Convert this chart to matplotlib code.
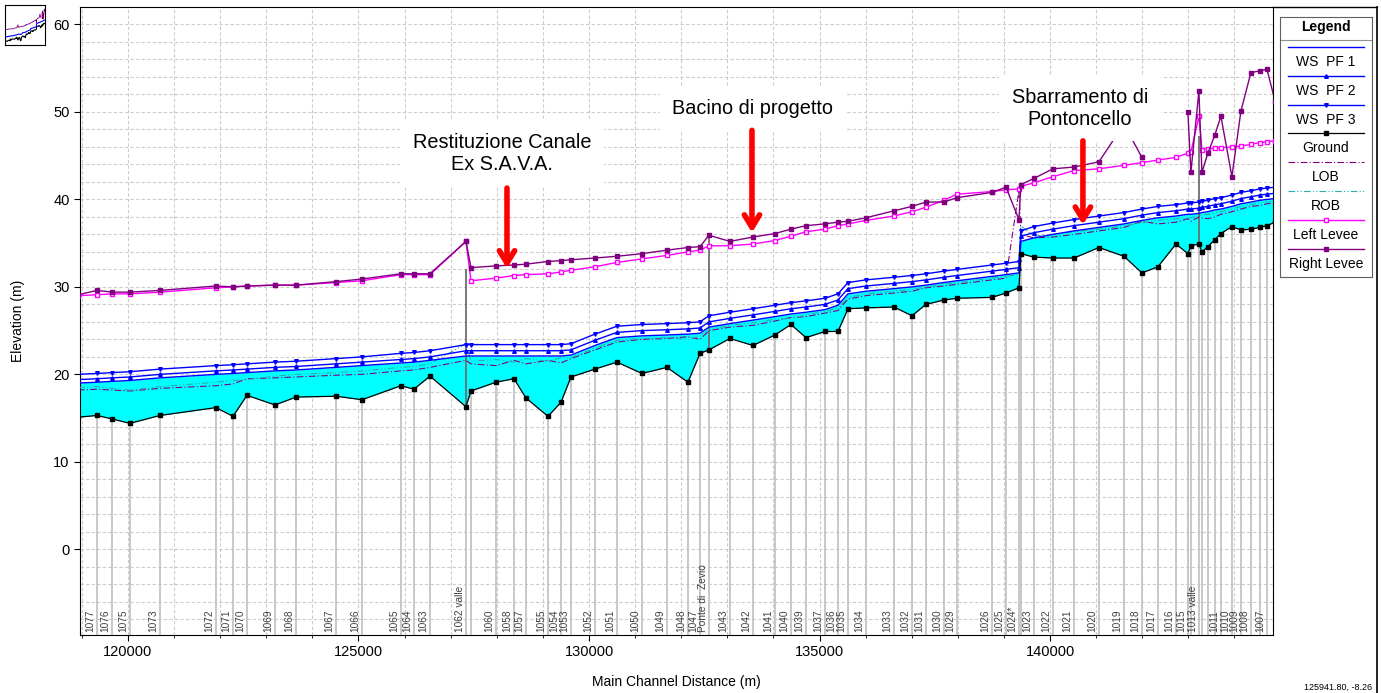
import numpy as np
import matplotlib.pyplot as plt
from matplotlib.lines import Line2D

plt.rcParams['font.family'] = ['Liberation Sans', 'DejaVu Sans']

# --- profile data ---
station_dist = [118916, 119328, 119653, 120043, 120694, 121909, 122277, 122581, 123188, 123644,
                124512, 125075, 125921, 126203, 126550, 127331, 127440, 127982, 128372, 128633,
                129110, 129392, 129609, 130129, 130606, 131149, 131691, 132146, 132407, 132602,
                133057, 133556, 134033, 134380, 134706, 135118, 135400, 135617, 136007, 136615,
                137005, 137309, 137699, 137981, 138740, 139044, 139326, 139369, 139651, 140063,
                140519, 141061, 141603, 141994, 142341, 142731, 142991, 143056, 143230, 143295,
                143425, 143577, 143707, 143946, 144141, 144358, 144553, 144705, 144879]

station_name = ['', '1077', '1076', '1075', '1073', '1072', '1071', '1070', '1069', '1068',
                '1067', '1066', '1065', '1064', '1063', '1062 valle', '', '1060', '1058', '1057',
                '1055', '1054', '1053', '1052', '1051', '1050', '1049', '1048', '1047', 'Ponte di  Zevio',
                '1043', '1042', '1041', '1040', '1039', '1037', '1036', '1035', '1034', '1033',
                '1032', '1031', '1030', '1029', '1026', '1025', '1024*', '', '1023', '1022',
                '1021', '1020', '1019', '1018', '1017', '1016', '1015', '', '1013 valle', '',
                '', '', '1011', '1010', '1009', '1008', '', '1007', '']

ground = [15.1, 15.3, 14.9, 14.4, 15.3, 16.2, 15.2, 17.6, 16.5, 17.4,
          17.5, 17.1, 18.7, 18.3, 19.8, 16.3, 18.1, 19.1, 19.5, 17.3,
          15.2, 16.8, 19.7, 20.6, 21.4, 20.1, 20.8, 19.1, 22.4, 22.8,
          24.1, 23.3, 24.5, 25.7, 24.2, 24.9, 24.9, 27.5, 27.6, 27.7,
          26.7, 28.0, 28.5, 28.7, 28.8, 29.3, 29.9, 33.8, 33.4, 33.3,
          33.3, 34.5, 33.5, 31.6, 32.3, 34.9, 33.8, 34.7, 34.9, 34.0,
          34.6, 35.4, 36.1, 36.9, 36.5, 36.6, 36.8, 37.0, 37.4]

ws_pf1 = [19.0, 19.1, 19.2, 19.3, 19.6, 20.0, 20.1, 20.2, 20.4, 20.5,
          20.8, 21.0, 21.3, 21.4, 21.6, 22.1, 22.1, 22.1, 22.1, 22.1,
          22.1, 22.1, 22.2, 23.3, 24.2, 24.4, 24.5, 24.6, 24.7, 25.4,
          25.8, 26.2, 26.6, 26.9, 27.1, 27.4, 27.9, 29.2, 29.5, 29.8,
          30.0, 30.2, 30.5, 30.7, 31.2, 31.4, 31.6, 35.2, 35.6, 36.0,
          36.4, 36.8, 37.2, 37.6, 37.9, 38.1, 38.3, 38.3, 38.4, 38.5,
          38.6, 38.8, 38.9, 39.2, 39.5, 39.7, 39.9, 40.0, 40.1]

ws_pf2 = [19.4, 19.5, 19.6, 19.7, 20.0, 20.4, 20.5, 20.6, 20.8, 20.9,
          21.2, 21.4, 21.7, 21.8, 22.0, 22.7, 22.7, 22.7, 22.7, 22.7,
          22.7, 22.7, 22.8, 23.9, 24.8, 25.0, 25.1, 25.2, 25.3, 26.0,
          26.4, 26.8, 27.2, 27.5, 27.7, 28.0, 28.5, 29.8, 30.1, 30.4,
          30.6, 30.8, 31.1, 31.3, 31.8, 32.0, 32.2, 35.8, 36.2, 36.6,
          37.0, 37.4, 37.8, 38.2, 38.5, 38.7, 38.9, 38.9, 39.0, 39.1,
          39.2, 39.4, 39.5, 39.8, 40.1, 40.3, 40.5, 40.6, 40.7]

ws_pf3 = [20.0, 20.1, 20.2, 20.3, 20.6, 21.0, 21.1, 21.2, 21.4, 21.5,
          21.8, 22.0, 22.4, 22.5, 22.7, 23.4, 23.4, 23.4, 23.4, 23.4,
          23.4, 23.4, 23.5, 24.6, 25.5, 25.7, 25.8, 25.9, 26.0, 26.7,
          27.1, 27.5, 27.9, 28.2, 28.4, 28.7, 29.2, 30.5, 30.8, 31.1,
          31.3, 31.5, 31.8, 32.0, 32.5, 32.7, 32.9, 36.4, 36.9, 37.3,
          37.7, 38.1, 38.5, 38.9, 39.2, 39.4, 39.6, 39.6, 39.7, 39.8,
          39.9, 40.1, 40.2, 40.5, 40.8, 41.0, 41.2, 41.3, 41.4]

lob = [18.2, 18.3, 18.2, 18.1, 18.4, 18.7, 18.9, 19.5, 19.6, 19.7,
       19.9, 20.0, 20.4, 20.5, 20.8, 21.6, 21.2, 21.0, 21.6, 21.2,
       21.6, 21.3, 21.8, 22.8, 23.7, 24.0, 24.1, 24.3, 24.0, 25.0,
       25.4, 25.6, 26.1, 26.5, 26.6, 27.0, 27.3, 28.6, 29.0, 29.3,
       29.5, 29.9, 30.1, 30.3, 30.8, 31.0, 41.0, 36.0, 35.6, 35.7,
       36.0, 36.4, 36.8, 37.5, 37.2, 37.4, 37.8, 37.5, 38.0, 37.9,
       37.8, 38.0, 38.3, 38.6, 38.9, 39.2, 39.3, 39.5, 39.6]

rob = [18.5, 18.6, 18.4, 18.2, 18.6, 19.1, 19.3, 19.4, 19.8, 20.0,
       20.2, 20.4, 20.8, 20.9, 21.2, 23.5, 21.5, 21.7, 21.4, 21.8,
       21.5, 21.9, 21.9, 23.0, 23.9, 24.1, 24.2, 24.0, 24.4, 25.1,
       25.6, 25.9, 26.3, 26.4, 26.8, 27.2, 27.6, 28.8, 29.2, 29.5,
       29.7, 30.0, 30.3, 30.5, 31.0, 31.2, 31.4, 37.0, 35.8, 36.0,
       36.3, 36.6, 37.0, 37.3, 37.6, 37.8, 37.9, 37.9, 38.1, 38.2,
       38.3, 38.5, 38.6, 38.9, 39.2, 39.4, 39.6, 39.7, 39.8]

left_levee = [29.0, 29.1, 29.2, 29.2, 29.4, 29.9, 30.0, 30.1, 30.2, 30.2,
              30.5, 30.7, 31.4, 31.4, 31.4, 35.2, 30.7, 31.0, 31.3, 31.4,
              31.5, 31.7, 31.9, 32.3, 32.8, 33.2, 33.6, 34.0, 34.2, 34.7,
              34.7, 34.9, 35.3, 35.8, 36.3, 36.6, 37.0, 37.2, 37.6, 38.1,
              38.6, 39.1, 39.9, 40.6, 40.9, 41.1, 41.2, 41.5, 41.9, 42.6,
              43.3, 43.5, 43.9, 44.2, 44.5, 44.8, 45.3, 45.4, 49.5, 45.7,
              45.8, 45.9, 45.9, 46.0, 46.1, 46.3, 46.5, 46.6, 46.7]

right_levee = [29.1, 29.6, 29.4, 29.4, 29.6, 30.1, 30.0, 30.1, 30.2, 30.2,
               30.6, 30.9, 31.5, 31.5, 31.5, 35.2, 32.2, 32.4, 32.5, 32.6,
               32.9, 33.0, 33.1, 33.3, 33.5, 33.8, 34.2, 34.5, 34.6, 35.9,
               35.2, 35.7, 36.1, 36.6, 37.0, 37.2, 37.4, 37.5, 37.9, 38.7,
               39.2, 39.7, 39.7, 40.2, 40.8, 41.4, 37.7, 41.7, 42.4, 43.5,
               43.7, 44.3, 48.6, 44.8, np.nan, np.nan, 50.0, 43.1, 52.4, 43.1,
               45.3, 47.4, 49.5, 42.6, 50.1, 54.5, 54.7, 54.9, 51.3]

# structures (bridge / weir decks drawn as vertical lines)
struct_dist = [127331, 132602, 143230]
struct_top = [32.1, 35.9, 47.3]

callout_text = ["Restituzione Canale\nEx S.A.V.A.", "Bacino di progetto", "Sbarramento di\nPontoncello"]

# --- styles ---
BLUE = '#0000ff'
styles = {
    'WS  PF 1': dict(color=BLUE, lw=1.0),
    'WS  PF 2': dict(color=BLUE, lw=1.0, marker='^', ms=2.6),
    'WS  PF 3': dict(color=BLUE, lw=1.0, marker='v', ms=2.6),
    'Ground': dict(color='black', lw=0.9, marker='s', ms=2.8),
    'LOB': dict(color='#800080', lw=0.8, dashes=[6, 2, 1, 2]),
    'ROB': dict(color='#2ab0b0', lw=0.8, dashes=[6, 2, 1, 2, 1, 2]),
    'Left Levee': dict(color='#ff00ff', lw=1.0, marker='s', ms=3, mfc='white'),
    'Right Levee': dict(color='#800080', lw=1.0, marker='s', ms=3),
}

W, H = 1381, 693
fig = plt.figure(figsize=(W / 100, H / 100), dpi=100)
ax = fig.add_axes([80 / W, (H - 635) / H, 1193 / W, 628 / H])

ymin, ymax = -9.8, 62.0
ax.set_xlim(118959, 144837)
ax.set_ylim(ymin, ymax)

ax.set_xticks(range(120000, 145000, 5000))
ax.set_xticks(range(119000, 145000, 1000), minor=True)
ax.set_yticks(range(0, 61, 10))
ax.set_yticks(range(-8, 62, 2), minor=True)
ax.grid(which='both', color='#cccccc', linestyle=(0, (3, 2)), linewidth=0.8, zorder=0)
ax.set_axisbelow(True)
ax.tick_params(axis='both', which='major', labelsize=10.5, length=4, direction='out')
ax.tick_params(axis='x', which='minor', length=2.5)
ax.tick_params(axis='y', which='minor', length=0)

# cross section lines and labels
ax.vlines(station_dist, ymin, ground, color='#c4c4c4', lw=1.3, zorder=1)
for d, name in zip(station_dist, station_name):
    if name:
        ax.text(d - 30, ymin + 0.35, name, rotation=90, ha='right', va='bottom',
                fontsize=7.3, color='#404040', zorder=2)

ax.fill_between(station_dist, ground, ws_pf1, color='#00ffff', lw=0, zorder=2)

ground_at = dict(zip(station_dist, ground))
ax.vlines(struct_dist, [ground_at[d] for d in struct_dist], struct_top,
          color='#6e6e6e', lw=1.3, zorder=3)

ax.plot(station_dist, lob, zorder=3, **styles['LOB'])
ax.plot(station_dist, rob, zorder=3, **styles['ROB'])
ax.plot(station_dist, left_levee, zorder=4, **styles['Left Levee'])
ax.plot(station_dist, right_levee, zorder=4, **styles['Right Levee'])
ax.plot(station_dist, ws_pf1, zorder=5, **styles['WS  PF 1'])
ax.plot(station_dist, ws_pf2, zorder=5, **styles['WS  PF 2'])
ax.plot(station_dist, ws_pf3, zorder=5, **styles['WS  PF 3'])
ax.plot(station_dist, ground, zorder=6, **styles['Ground'])

ax.set_xlabel('Main Channel Distance (m)', fontsize=10)
ax.set_ylabel('Elevation (m)', fontsize=10)
ax.xaxis.set_label_coords(0.5, -0.064)
ax.yaxis.set_label_coords(-0.046, 0.5)

# callouts with red arrows
text_pos = [(128112, 45.3), (133556, 50.4), (140649, 50.4)]
arrow_pos = [(128221, 41.3, 32.1), (133535, 47.9, 36.2), (140714, 46.7, 37.1)]
for txt, (tx, ty), (axx, y0, y1) in zip(callout_text, text_pos, arrow_pos):
    ax.text(tx, ty, txt, ha='center', va='center', fontsize=14.3, linespacing=1.2,
            bbox=dict(facecolor='white', edgecolor='none', pad=9), zorder=8)
    ax.annotate('', xy=(axx, y1), xytext=(axx, y0),
                arrowprops=dict(arrowstyle='->,head_length=0.9,head_width=0.55', color='red',
                                lw=4, shrinkA=0, shrinkB=0), zorder=9)

# legend box on the right
lg = fig.add_axes([1280 / W, (H - 277) / H, 92 / W, 260 / H])
lg.set_xlim(0, 92)
lg.set_ylim(260, 0)
lg.set_xticks([])
lg.set_yticks([])
for s in lg.spines.values():
    s.set_color('#606060')
lg.text(46, 10, 'Legend', ha='center', va='center', fontsize=10, fontweight='bold')
lg.axhline(23, color='#909090', lw=0.8)
for i, (name, st) in enumerate(styles.items()):
    yl = 30 + i * 28.8
    lg.plot([8, 46, 84], [yl, yl, yl], markevery=[1], **st)
    lg.text(46, yl + 15, name, ha='center', va='center', fontsize=10)

# overview thumbnail
th = fig.add_axes([5 / W, (H - 45) / H, 40 / W, 40 / H])
th.plot(station_dist, ground, color='black', lw=0.8)
th.plot(station_dist, ws_pf3, color=BLUE, lw=0.8)
th.plot(station_dist, right_levee, color='#800080', lw=0.6)
th.set_xlim(station_dist[0], station_dist[-1])
th.set_ylim(10, 60)
th.set_xticks([])
th.set_yticks([])

# outer window frame (top-right)
fig.add_artist(Line2D([1273 / W, 1377 / W], [1 - 7 / H, 1 - 7 / H], color='black', lw=1))
fig.add_artist(Line2D([1377 / W, 1377 / W], [0, 1 - 7 / H], color='black', lw=1.2))

fig.text(1338 / W, 1 - 687 / H, '125941.80, -8.26', fontsize=6.5, ha='center', va='center')

fig.savefig('out.png', dpi=100)
